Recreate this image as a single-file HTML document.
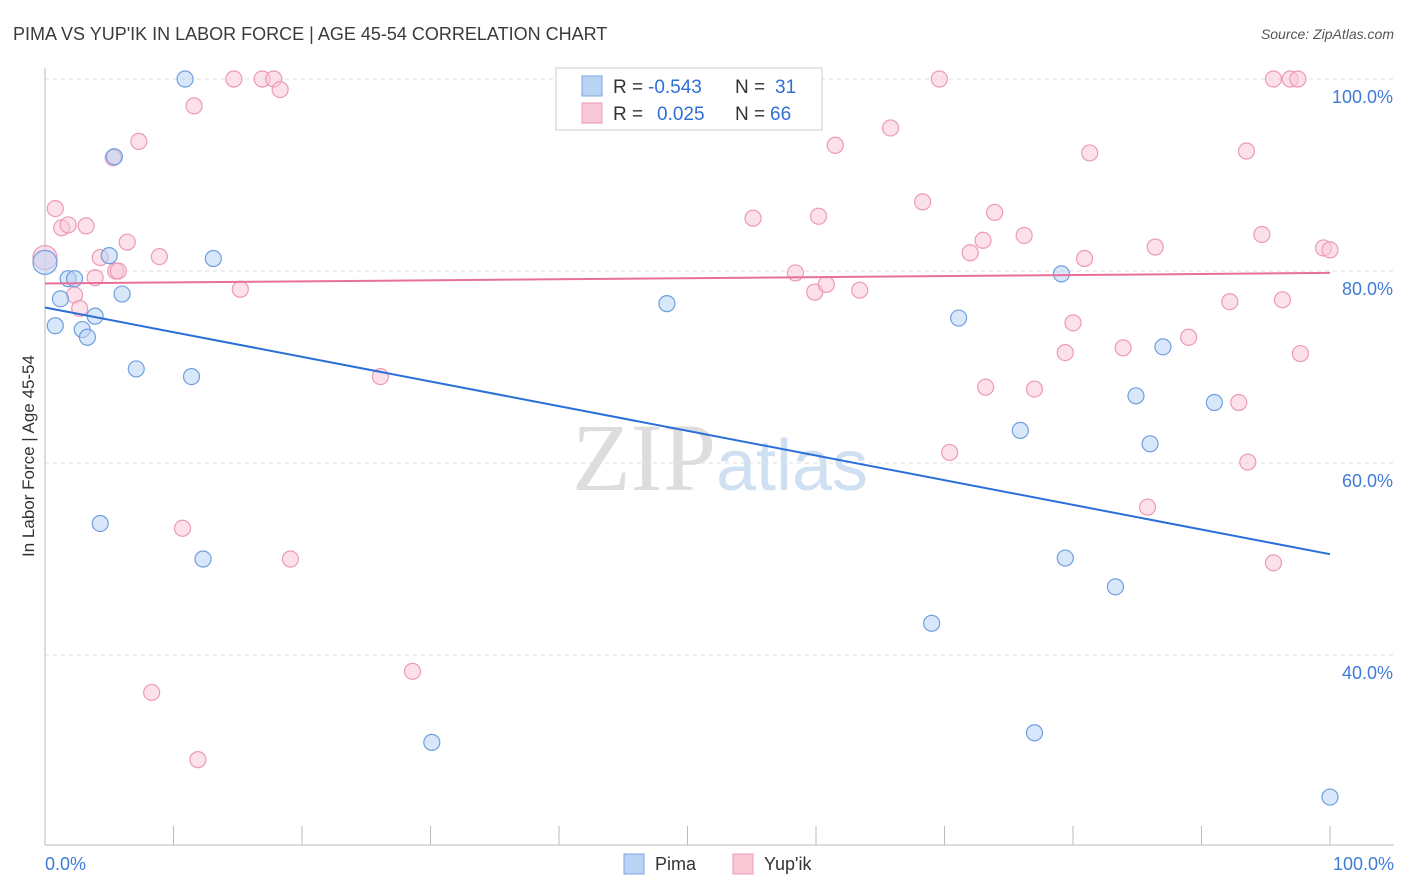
<!DOCTYPE html>
<html><head><meta charset="utf-8"><style>
body{margin:0;background:#fff;font-family:"Liberation Sans",sans-serif}
svg{display:block}
</style></head><body>
<svg id="chart" width="1406" height="892" xmlns="http://www.w3.org/2000/svg">
<text x="13" y="40" font-size="18" fill="#3a3a3a">PIMA VS YUP'IK IN LABOR FORCE | AGE 45-54 CORRELATION CHART</text>
<text x="1394" y="39" font-size="14" fill="#555" font-style="italic" text-anchor="end">Source: ZipAtlas.com</text>
<text transform="translate(34,456) rotate(-90)" font-size="17" fill="#333" text-anchor="middle">In Labor Force | Age 45-54</text>
<text x="720" y="490" font-size="96" fill="#ddd" text-anchor="middle" font-family="Liberation Serif,serif">ZIP<tspan fill="#cfe0f3" font-family="Liberation Sans,sans-serif" font-size="72">atlas</tspan></text>
<g id="grid"></g><g id="marks"></g>
<g>
<rect x="556" y="68" width="266" height="62" fill="#fff" stroke="#ccc"/>
<rect x="582" y="76" width="20" height="20" fill="#b9d3f5" stroke="#7aa7e0"/>
<rect x="582" y="103" width="20" height="20" fill="#f9c9d8" stroke="#ec9ab5"/>
<text x="613" y="93" font-size="19" fill="#333">R =</text>
<text x="648" y="93" font-size="19" fill="#2f6fd6">-0.543</text>
<text x="735" y="93" font-size="19" fill="#333">N =</text>
<text x="775" y="93" font-size="19" fill="#2f6fd6">31</text>
<text x="613" y="120" font-size="19" fill="#333">R =</text>
<text x="657" y="120" font-size="19" fill="#2f6fd6">0.025</text>
<text x="735" y="120" font-size="19" fill="#333">N =</text>
<text x="770" y="120" font-size="19" fill="#2f6fd6">66</text>
</g>
<g>
<rect x="624" y="854" width="20" height="20" fill="#b9d3f5" stroke="#7aa7e0"/>
<text x="655" y="870" font-size="18" fill="#333">Pima</text>
<rect x="733" y="854" width="20" height="20" fill="#f9c9d8" stroke="#ec9ab5"/>
<text x="764" y="870" font-size="18" fill="#333">Yup'ik</text>
</g>
</svg>
<script>
const pimaX=[10.9,5.4,0,5.0,13.1,1.8,2.3,1.2,6.0,0.8,2.9,3.3,3.9,7.1,11.4,4.3,12.3,30.1,48.4,71.1,79.1,75.9,84.9,87.0,91.0,86.0,79.4,83.3,69.0,77.0,100];
const pimaY=[100,91.9,80.9,81.6,81.3,79.2,79.2,77.1,77.6,74.3,73.9,73.1,75.3,69.8,69.0,53.7,50.0,30.9,76.6,75.1,79.7,63.4,67.0,72.1,66.3,62.0,50.1,47.1,43.3,31.9,25.2];
const yupX=[0,0.8,1.3,1.8,3.2,2.3,2.7,3.9,4.3,5.3,5.5,5.7,6.4,7.3,8.9,11.6,14.7,16.9,17.8,18.3,15.2,10.7,19.1,8.3,11.9,26.1,28.6,50.2,55.1,58.4,59.9,60.8,60.2,61.5,63.4,65.8,68.3,69.6,72.0,73.0,73.9,76.2,73.2,70.4,77.0,79.4,80.0,80.9,81.3,83.9,85.8,86.4,89.0,92.2,92.9,93.6,93.5,94.7,95.6,96.9,97.5,96.3,97.7,95.6,99.5,100];
const yupY=[81.4,86.5,84.5,84.8,84.7,77.5,76.1,79.3,81.4,91.8,80.0,80.0,83.0,93.5,81.5,97.2,100,100,100,98.9,78.1,53.2,50.0,36.1,29.1,69.0,38.3,100,85.5,79.8,77.8,78.6,85.7,93.1,78.0,94.9,87.2,100,81.9,83.2,86.1,83.7,67.9,61.1,67.7,71.5,74.6,81.3,92.3,72.0,55.4,82.5,73.1,76.8,66.3,60.1,92.5,83.8,100,100,100,77.0,71.4,49.6,82.4,82.2];
const pimaLine=[76.2,50.5];
const yupLine=[78.7,79.8];
const yTicks=[40,60,80,100];
const xTickCount=10;
const X=v=>45+v*12.85, Y=v=>1039-v*9.6;
const NS="http://www.w3.org/2000/svg";
function mk(p,t,a){const e=document.createElementNS(NS,t);for(const k in a)e.setAttribute(k,a[k]);p.appendChild(e);return e;}
const g=document.getElementById('grid'),m=document.getElementById('marks');
yTicks.forEach(t=>{
 const l=mk(g,'line',{x1:45,x2:1394,y1:Y(t),y2:Y(t),stroke:'#ddd','stroke-dasharray':'4,4'});
 
 
 const tx=mk(g,'text',{x:1393,y:Y(t)+24,'font-size':18,fill:'#3f7bd8','text-anchor':'end'});tx.textContent=t.toFixed(1)+'%';
 
 
});
mk(g,'line',{x1:45,x2:45,y1:68,y2:845,stroke:'#bbb'});
mk(g,'line',{x1:45,x2:1394,y1:845,y2:845,stroke:'#bbb'});
for(let i=0;i<=xTickCount;i++){mk(g,'line',{x1:X(i*10),x2:X(i*10),y1:826,y2:845,stroke:'#bbb'});}
let t0=mk(g,'text',{x:45,y:870,'font-size':18,fill:'#3f7bd8'});t0.textContent='0.0%';


let t1=mk(g,'text',{x:1394,y:870,'font-size':18,fill:'#3f7bd8','text-anchor':'end'});t1.textContent='100.0%';


function pts(xs,ys,f,s,name){xs.forEach((x,i)=>{const r=(x===0)?12:8;const c=mk(m,'circle',{cx:X(x),cy:Y(ys[i]),r:r,fill:f,'fill-opacity':0.55,stroke:s,'stroke-width':1.2});
 
 });}
pts(yupX,yupY,'#f9c9d8','#ec9ab5','yupik-point');
pts(pimaX,pimaY,'#b9d3f5','#6f9fdf','pima-point');
const pl=mk(m,'line',{x1:X(0),y1:Y(pimaLine[0]),x2:X(100),y2:Y(pimaLine[1]),stroke:'#2a6fd8','stroke-width':2});


const yl=mk(m,'line',{x1:X(0),y1:Y(yupLine[0]),x2:X(100),y2:Y(yupLine[1]),stroke:'#e8709a','stroke-width':2});


</script>
</body></html>
